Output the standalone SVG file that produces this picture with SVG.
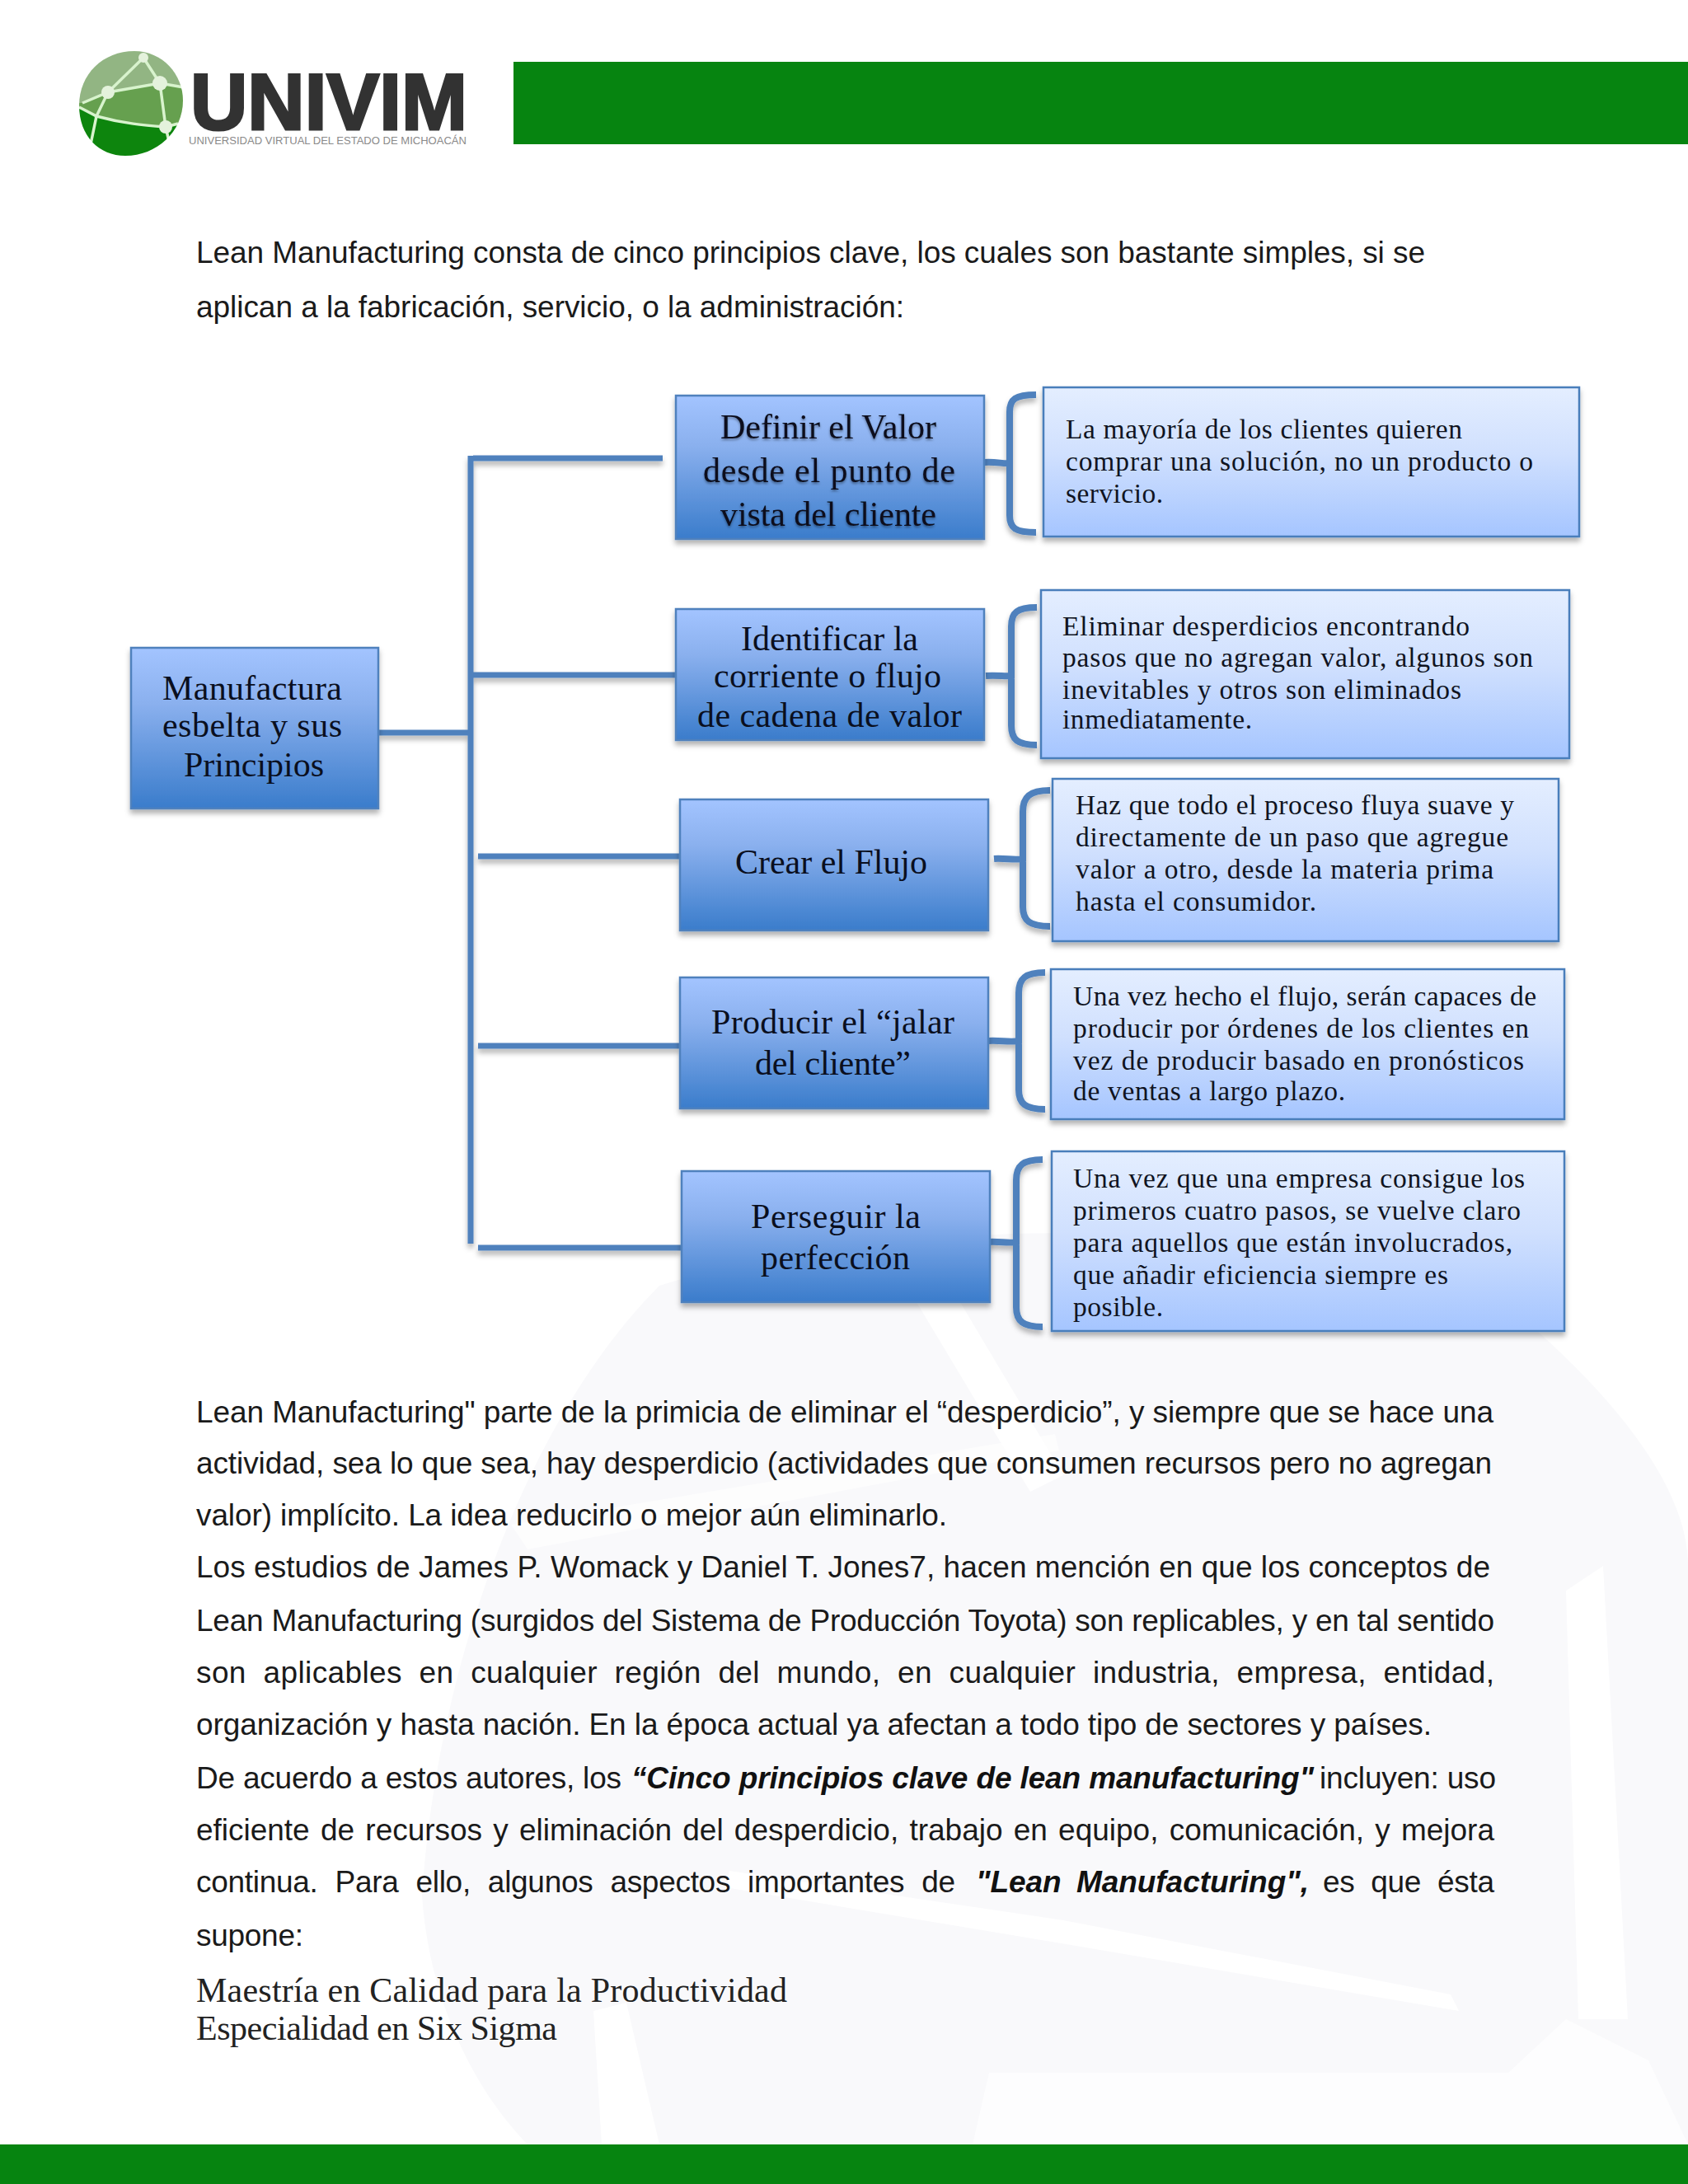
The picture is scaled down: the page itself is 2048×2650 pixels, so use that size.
<svg xmlns="http://www.w3.org/2000/svg" width="2048" height="2650" viewBox="0 0 2048 2650">
<defs>
<linearGradient id="g1" x1="0" y1="0" x2="0" y2="1"><stop offset="0" stop-color="#a3c4ff"/><stop offset="0.35" stop-color="#8ab0ee"/><stop offset="1" stop-color="#3a7ccb"/></linearGradient>
<linearGradient id="g2" x1="0" y1="0" x2="0" y2="1"><stop offset="0" stop-color="#e4eeff"/><stop offset="0.45" stop-color="#d0e0fe"/><stop offset="1" stop-color="#a5c5ff"/></linearGradient>
<filter id="sh" x="-5%" y="-5%" width="110%" height="115%"><feDropShadow dx="0" dy="5" stdDeviation="3" flood-color="#000" flood-opacity="0.3"/></filter>
<filter id="ts" x="-5%" y="-20%" width="110%" height="140%"><feDropShadow dx="0" dy="2" stdDeviation="1.5" flood-color="#000" flood-opacity="0.4"/></filter>
<filter id="soft"><feGaussianBlur stdDeviation="0.7"/></filter>
<clipPath id="gc"><path d="M96 128C96 90 125 62 163 62C197 62 222 90 222 122C222 160 190 189 152 189C120 189 96 165 96 128Z"/></clipPath>
</defs>
<style>
.b{font-family:"Liberation Sans",Arial,sans-serif;font-size:37px;fill:#1a1a1a}
.bi{font-family:"Liberation Sans",Arial,sans-serif;font-size:37px;fill:#111;font-weight:bold;font-style:italic}
.t{font-family:"Liberation Serif","Times New Roman",serif;font-size:42px;fill:#0a0f1e}
.r{font-family:"Liberation Serif","Times New Roman",serif;font-size:33.5px;fill:#10141f}
.f{font-family:"Liberation Serif","Times New Roman",serif;font-size:42px;fill:#222}
.n1{fill:url(#g1);stroke:#4f81bd;stroke-width:2.5;filter:url(#sh)}
.n2{fill:url(#g2);stroke:#4a7ebb;stroke-width:2.5;filter:url(#sh)}
.c{fill:none;stroke:#4f81bd;stroke-width:7;filter:url(#sh)}
.k{fill:none;stroke:#4f81bd;stroke-width:8}
.w{fill:#f9f9fb}
.wl{fill:#fff}
</style>
<rect width="2048" height="2650" fill="#fff"/>
<g id="watermark">
<path class="w" d="M512 2300C530 2020 640 1720 800 1560C1050 1480 1500 1470 1800 1560C1950 1680 2048 1800 2048 1900V2602H640C570 2530 520 2420 512 2300Z"/>
<path class="wl" d="M885 2270L1290 2330L1760 2420L1770 2440L1240 2350L880 2290Z"/>
<path class="wl" d="M720 2440L760 2430L800 2602H730Z"/>
<path class="wl" d="M1900 1930L1945 1900L1975 2450H1915Z"/>
<path class="wl" d="M1200 2515H1830L1900 2450L2000 2500L2048 2602H1180Z" opacity="0.7"/>
<path class="wl" d="M1100 1560L1150 1555L1290 1790L1250 1810Z"/>
<path class="wl" d="M620 1850L1280 1740L1285 1760L640 1880Z" opacity="0.6"/>
</g>
<g id="logo">
<g clip-path="url(#gc)" filter="url(#soft)">
<rect x="95" y="61" width="128" height="128" fill="#0b8510"/>
<path d="M95 61H223V150L201 155C170 152 140 148 117 141L95 131Z" fill="#66a050"/>
<path d="M95 61H223V106L194 101L131 112L100 125H95Z" fill="#92b583"/>
<path d="M174 70L194 101L131 112L100 125M174 70L131 112L117 141C150 150 175 152 201 154L194 101M201 154L216 150M96 130L117 141L110 175M201 154L206 176M194 101L223 106" fill="none" stroke="#d8f3cd" stroke-width="3.5"/>
<circle cx="174" cy="70" r="6" fill="#e4f2dc"/><circle cx="194" cy="101" r="9" fill="#e4f2dc"/><circle cx="131" cy="112" r="8" fill="#e4f2dc"/><circle cx="201" cy="154" r="8" fill="#e4f2dc"/>
</g>
<text x="231" y="157" font-family="'Liberation Sans',Arial,sans-serif" font-size="96" font-weight="bold" fill="#333" stroke="#333" stroke-width="3" textLength="336" lengthAdjust="spacingAndGlyphs" filter="url(#soft)">UNIVIM</text>
<text x="229" y="175" font-family="'Liberation Sans',Arial,sans-serif" font-size="12" fill="#8a8a8a" textLength="337" lengthAdjust="spacingAndGlyphs">UNIVERSIDAD VIRTUAL DEL ESTADO DE MICHOACÁN</text>
</g>
<rect id="top-bar" x="623" y="75" width="1425" height="100" fill="#068410"/>
<rect id="bottom-bar" x="0" y="2602" width="2048" height="48" fill="#068410"/>
<g id="intro">
<text class="b" x="238" y="319" textLength="1491">Lean Manufacturing consta de cinco principios clave, los cuales son bastante simples, si se</text>
<text class="b" x="238" y="385" textLength="859">aplican a la fabricación, servicio, o la administración:</text>
</g>
<g id="connectors">
<path class="c" d="M460 889H568M571 553V1509M574 556H804M574 819H820M580 1039H825M580 1269H825M580 1514H826"/>
<g filter="url(#sh)">
<path class="k" d="M1194 561C1208 560 1218 563 1225 562V500C1225 484 1232 479 1257 479M1225 562V625C1225 641 1232 646 1257 646"/>
<path class="k" d="M1196 820C1210 819 1220 821 1227 820V760C1227 743 1234 737 1258 737M1227 820V880C1227 897 1234 904 1258 904"/>
<path class="k" d="M1206 1042C1218 1041 1232 1044 1241 1042V985C1241 967 1249 959 1274 959M1241 1042V1100C1241 1117 1249 1124 1274 1124"/>
<path class="k" d="M1199 1263C1212 1262 1226 1265 1236 1263V1205C1236 1187 1244 1180 1268 1180M1236 1263V1322C1236 1339 1244 1346 1268 1346"/>
<path class="k" d="M1199 1507C1212 1506 1224 1509 1233 1507V1432C1233 1414 1241 1407 1265 1407M1233 1507V1586C1233 1603 1241 1610 1265 1610"/>
</g>
</g>
<g id="node-main"><rect class="n1" x="159" y="786" width="300" height="195"/>
<text class="t" x="197" y="849" textLength="218">Manufactura</text><text class="t" x="197" y="894" textLength="218">esbelta y sus</text><text class="t" x="223" y="942" textLength="170">Principios</text></g>
<g id="node-definir"><rect class="n1" x="820" y="480" width="374" height="174"/>
<g filter="url(#ts)"><text class="t" x="874" y="532" textLength="262">Definir el Valor</text><text class="t" x="853" y="585" textLength="306">desde el punto de</text><text class="t" x="874" y="638" textLength="262">vista del cliente</text></g></g>
<g id="node-identificar"><rect class="n1" x="820" y="739" width="374" height="159"/>
<text class="t" x="899" y="789" textLength="215">Identificar la</text><text class="t" x="866" y="834" textLength="276">corriente o flujo</text><text class="t" x="846" y="882" textLength="321">de cadena de valor</text></g>
<g id="node-crear"><rect class="n1" x="825" y="970" width="374" height="159"/>
<text class="t" x="892" y="1060" textLength="233">Crear el Flujo</text></g>
<g id="node-producir"><rect class="n1" x="825" y="1186" width="374" height="159"/>
<text class="t" x="863" y="1254" textLength="295">Producir el “jalar</text><text class="t" x="916" y="1304" textLength="189">del cliente”</text></g>
<g id="node-perseguir"><rect class="n1" x="827" y="1421" width="374" height="159"/>
<text class="t" x="911" y="1490" textLength="206">Perseguir la</text><text class="t" x="923" y="1540" textLength="181">perfección</text></g>
<g id="note-1"><rect class="n2" x="1266" y="470" width="650" height="181"/>
<text class="r" x="1293" y="532" textLength="481">La mayoría de los clientes quieren</text><text class="r" x="1293" y="571" textLength="567">comprar una solución, no un producto o</text><text class="r" x="1293" y="610" textLength="118">servicio.</text></g>
<g id="note-2"><rect class="n2" x="1263" y="716" width="641" height="204"/>
<text class="r" x="1289" y="771" textLength="494">Eliminar desperdicios encontrando</text><text class="r" x="1289" y="809" textLength="571">pasos que no agregan valor, algunos son</text><text class="r" x="1289" y="848" textLength="484">inevitables y otros son eliminados</text><text class="r" x="1289" y="884" textLength="230">inmediatamente.</text></g>
<g id="note-3"><rect class="n2" x="1277" y="945" width="614" height="197"/>
<text class="r" x="1305" y="988" textLength="532">Haz que todo el proceso fluya suave y</text><text class="r" x="1305" y="1027" textLength="525">directamente de un paso que agregue</text><text class="r" x="1305" y="1066" textLength="507">valor a otro, desde la materia prima</text><text class="r" x="1305" y="1105" textLength="292">hasta el consumidor.</text></g>
<g id="note-4"><rect class="n2" x="1275" y="1176" width="623" height="182"/>
<text class="r" x="1302" y="1220" textLength="562">Una vez hecho el flujo, serán capaces de</text><text class="r" x="1302" y="1259" textLength="553">producir por órdenes de los clientes en</text><text class="r" x="1302" y="1298" textLength="547">vez de producir basado en pronósticos</text><text class="r" x="1302" y="1335" textLength="330">de ventas a largo plazo.</text></g>
<g id="note-5"><rect class="n2" x="1276" y="1397" width="622" height="218"/>
<text class="r" x="1302" y="1441" textLength="548">Una vez que una empresa consigue los</text><text class="r" x="1302" y="1480" textLength="543">primeros cuatro pasos, se vuelve claro</text><text class="r" x="1302" y="1519" textLength="533">para aquellos que están involucrados,</text><text class="r" x="1302" y="1558" textLength="455">que añadir eficiencia siempre es</text><text class="r" x="1302" y="1597" textLength="109">posible.</text></g>
<g id="body">
<text class="b" x="238" y="1726" textLength="1574">Lean Manufacturing" parte de la primicia de eliminar el “desperdicio”, y siempre que se hace una</text>
<text class="b" x="238" y="1788" textLength="1572">actividad, sea lo que sea, hay desperdicio (actividades que consumen recursos pero no agregan</text>
<text class="b" x="238" y="1851" textLength="911">valor) implícito. La idea reducirlo o mejor aún eliminarlo.</text>
<text class="b" x="238" y="1914" textLength="1570">Los estudios de James P. Womack y Daniel T. Jones7, hacen mención en que los conceptos de</text>
<text class="b" x="238" y="1979" textLength="1575">Lean Manufacturing (surgidos del Sistema de Producción Toyota) son replicables, y en tal sentido</text>
<text class="b" x="238" y="2042" textLength="1575" word-spacing="10">son aplicables en cualquier región del mundo, en cualquier industria, empresa, entidad,</text>
<text class="b" x="238" y="2105" textLength="1499">organización y hasta nación. En la época actual ya afectan a todo tipo de sectores y países.</text>
<text class="b" x="238" y="2170" textLength="516">De acuerdo a estos autores, los</text>
<text class="bi" x="766" y="2170" textLength="828">“Cinco principios clave de lean manufacturing"</text>
<text class="b" x="1601" y="2170" textLength="214">incluyen: uso</text>
<text class="b" x="238" y="2233" textLength="1575" word-spacing="3">eficiente de recursos y eliminación del desperdicio, trabajo en equipo, comunicación, y mejora</text>
<text class="b" x="238" y="2296" textLength="921" word-spacing="11">continua. Para ello, algunos aspectos importantes de</text>
<text class="bi" x="1184" y="2296" textLength="404" word-spacing="8">"Lean Manufacturing",</text>
<text class="b" x="1605" y="2296" textLength="208" word-spacing="10">es que ésta</text>
<text class="b" x="238" y="2361" textLength="130">supone:</text>
</g>
<g id="footer-note">
<text class="f" x="238" y="2429" textLength="717">Maestría en Calidad para la Productividad</text>
<text class="f" x="238" y="2475" textLength="438">Especialidad en Six Sigma</text>
</g>
</svg>
